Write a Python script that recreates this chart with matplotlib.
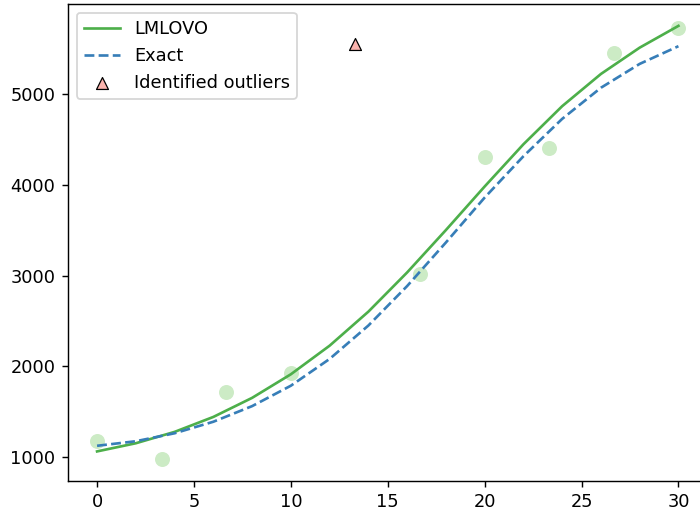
import numpy as np
import matplotlib
matplotlib.use("Agg")
import matplotlib.pyplot as plt

# observed data
x_data = [0.0, 3.33, 6.67, 10.0, 16.67, 20.0, 23.33, 26.67, 30.0]
y_data = [1175, 978, 1722, 1925, 3018, 4310, 4410, 5450, 5727]

# outliers flagged by the fit
x_out = [13.33]
y_out = [5553]

# fitted curves
x_curve = [0, 2, 4, 6, 8, 10, 12, 14, 16, 18, 20, 22, 24, 26, 28, 30]
y_lmlovo = [1063, 1153, 1278, 1443, 1653, 1913, 2228, 2603, 3035, 3502, 3982, 4447, 4867, 5222, 5512, 5752]
y_exact = [1125, 1175, 1263, 1390, 1562, 1787, 2082, 2450, 2885, 3365, 3860, 4315, 4727, 5070, 5333, 5528]

DPI = 128
fig = plt.figure(figsize=(700 / DPI, 510 / DPI), dpi=DPI)
ax = fig.add_axes([68 / 700, 29 / 510, 639.5 / 700, 477 / 510])

ax.scatter(x_data, y_data, s=55, color="#ccebc5", zorder=1)
ax.plot(x_curve, y_lmlovo, color="#4daf4a", lw=1.5, label="LMLOVO", zorder=2)
ax.plot(x_curve, y_exact, color="#377eb8", lw=1.5, ls="--", label="Exact", zorder=2)
ax.scatter(x_out, y_out, marker="^", s=45, color="#fbb4ae", edgecolor="black",
           linewidth=0.7, label="Identified outliers", zorder=3)

ax.set_xlim(-1.5, 31.5)
ax.set_ylim(737, 5993)
ax.set_xticks([0, 5, 10, 15, 20, 25, 30])
ax.set_yticks([1000, 2000, 3000, 4000, 5000])
ax.legend(loc="upper left")

fig.savefig("out.png", dpi=DPI)
